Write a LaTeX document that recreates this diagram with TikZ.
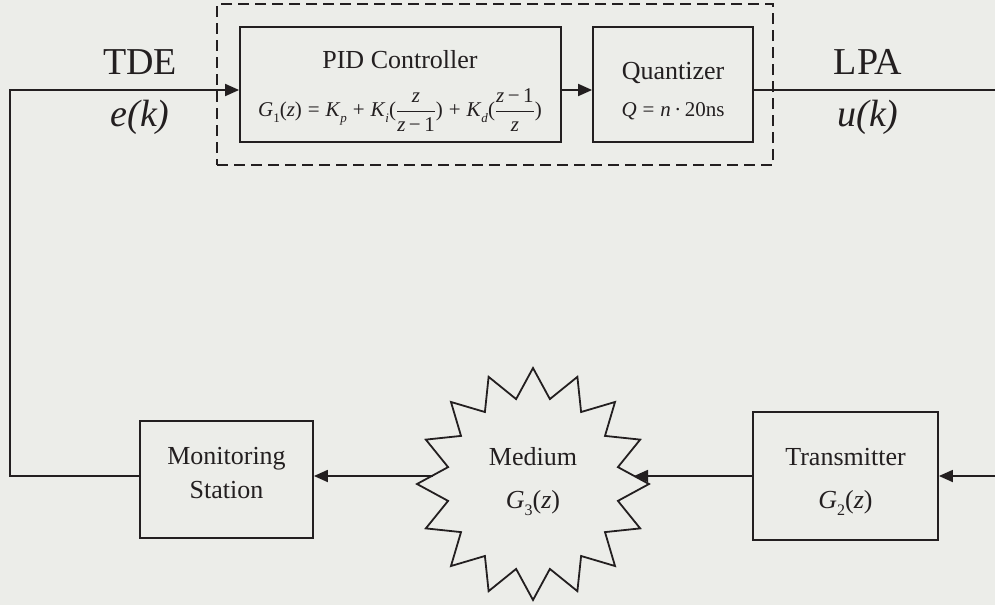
\documentclass[tikz,border=0pt]{standalone}
\usepackage{fontspec}
\setmainfont{Liberation Serif}
\usetikzlibrary{arrows.meta,shapes.geometric,calc}
\definecolor{bg}{HTML}{ECEDE9}
\definecolor{ink}{HTML}{231F20}
\newcommand\myhuge{\fontsize{38}{44}\selectfont}
\newcommand\mymid{\fontsize{26}{34}\selectfont}
\newcommand\mysmall{\fontsize{21}{25}\selectfont}
\newcommand\vi[1]{\textit{#1}}
\newcommand\sbs[1]{\raisebox{-0.28em}{\fontsize{13}{15}\selectfont #1}}
\newcommand\sbsb[1]{\raisebox{-0.25em}{\fontsize{16}{18}\selectfont #1}}
\newcommand\op[1]{\hspace{0.28em}#1\hspace{0.28em}}
\newcommand\myfrac[2]{$\displaystyle\frac{\mbox{#1}}{\mbox{#2}}$}
\begin{document}
\begin{tikzpicture}[x=1pt,y=-1pt,
  line width=1.8pt,
  box/.style={draw=ink, line width=1.8pt, inner sep=0pt},
  lbl/.style={text=ink, inner sep=0pt, align=center},
  arr/.style={draw=ink, -{Triangle[length=14pt,width=12pt]}},
  wire/.style={draw=ink}]
\fill[bg] (0,0) rectangle (995,605);
\useasboundingbox (0,0) rectangle (995,605);

% dashed group
\node[draw=ink, line width=1.6pt, dash pattern=on 11pt off 6pt, inner sep=0pt,
      minimum width=556, minimum height=161] (grp) at (495,84.5) {};

% blocks
\node[box, minimum width=321, minimum height=115] (pid) at (400.5,84.5) {};
\node[box, minimum width=160, minimum height=115] (q) at (673,84.5) {};
\node[box, minimum width=173, minimum height=117] (mon) at (226.5,479.5) {};
\node[box, minimum width=185, minimum height=128] (tx) at (845.5,476) {};
\node[draw=ink, line width=1.8pt, star, star points=16, star point ratio=1.34,
      minimum size=232, inner sep=0pt] (med) at (533,484) {};
\coordinate (medL) at ($(med.center)+(-100,0)$);
\coordinate (medR) at ($(med.center)+(101,0)$);

% texts
\node[lbl, font=\mymid] (pidt) at (400,60) {PID Controller};
\node[lbl, font=\mysmall] (pidf) at (400,110)
  {\vi{G}\sbs{1}(\vi{z})\op{=}\vi{K}\sbs{\vi{p}}\op{+}\vi{K}\sbs{\vi{i}}(\myfrac{\vi{z}}{\vi{z}\,−\,1})\op{+}\vi{K}\sbs{\vi{d}}(\myfrac{\vi{z}\,−\,1}{\vi{z}})};
\node[lbl, font=\mysmall] (qf) at (673,111) {\vi{Q}\op{=}\vi{n}\,·\,20ns};
\node[lbl, font=\mymid] (qt) at (673,73) {Quantizer};
\node[lbl, font=\myhuge] (tde) at (140,62) {TDE};
\node[lbl, font=\myhuge] (ek) at (140,117) {\textit{e(k)}};
\node[lbl, font=\myhuge] (lpa) at (868,62) {LPA};
\node[lbl, font=\myhuge] (uk) at (868,117) {\textit{u(k)}};
\node[lbl, font=\mymid] (mont) at (226.5,473) {Monitoring\\Station};
\node[lbl, font=\mymid] (medt) at (533,457) {Medium};
\node[lbl, font=\mymid] (medf) at (533,503) {\vi{G}\sbsb{3}(\vi{z})};
\node[lbl, font=\mymid] (txt) at (845.5,457) {Transmitter};
\node[lbl, font=\mymid] (txf) at (845.5,503) {\vi{G}\sbsb{2}(\vi{z})};

% connectors
\coordinate (tl) at (10,90);
\coordinate (outr) at (995,90);
\coordinate (inr) at (995,476);
\draw[arr] (mon.west |- tx.west) -| (tl) -- (pid.west |- tl);
\draw[arr] (pid.east |- tl) -- (q.west |- tl);
\draw[wire] (q.east |- tl) -- (outr);
\draw[arr] (inr) -- (tx.east);
\draw[arr] (tx.west) -- (medR |- tx.west);
\draw[arr] (medL |- tx.west) -- (mon.east |- tx.west);
\end{tikzpicture}
\end{document}
